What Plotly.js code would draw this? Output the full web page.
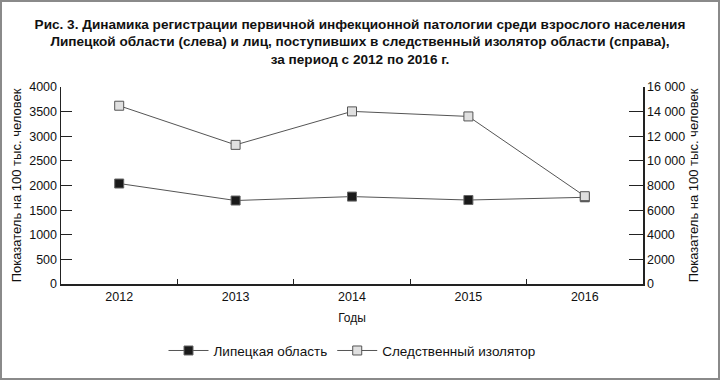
<!DOCTYPE html>
<html><head><meta charset="utf-8">
<script src="https://cdn.plot.ly/plotly-3.0.1.min.js"></script>
<style>
html,body{margin:0;padding:0;background:#fff;}
#wrap{position:relative;width:720px;height:380px;}
#frame{position:absolute;left:0;top:0;width:720px;height:380px;box-sizing:border-box;border:2px solid #8a8a8a;pointer-events:none;}
</style></head>
<body><div id="wrap"><div id="chart" style="width:720px;height:380px;"></div><div id="frame"></div></div>
<script>
const years = ['2012','2013','2014','2015','2016'];
const lipetsk = [2040, 1695, 1775, 1705, 1760];
const sizo = [14480, 11300, 14020, 13610, 7130];
const leftTicks = [0,500,1000,1500,2000,2500,3000,3500,4000];
const rightTicks = [0,2000,4000,6000,8000,10000,12000,14000,16000];
const rightTickText = ['0','2000','4000','6000','8000','10 000','12 000','14 000','16 000'];
const titleText = 'Рис. 3. Динамика регистрации первичной инфекционной патологии среди взрослого населения<br>Липецкой области (слева) и лиц, поступивших в следственный изолятор области (справа),<br>за период с 2012 по 2016 г.';
const yTitle = 'Показатель на 100 тыс. человек';

const font = {family:'Liberation Sans, Arial, sans-serif', size:12, color:'#111'};
const traces = [
  {x: years, y: lipetsk, name:'Липецкая область', type:'scatter', mode:'lines+markers',
   line:{color:'#555', width:1}, marker:{symbol:'square', size:9, color:'#1a1a1a', line:{color:'#666', width:1}}},
  {x: years, y: sizo, name:'Следственный изолятор', type:'scatter', mode:'lines+markers', yaxis:'y2',
   line:{color:'#555', width:1}, marker:{symbol:'square', size:9, color:'#e0e0e0', line:{color:'#555', width:1}}}
];
const layout = {
  width:720, height:380,
  margin:{l:61, r:77, t:87, b:96},
  paper_bgcolor:'#fff', plot_bgcolor:'#fff',
  font: font,
  title:{text:titleText, font:{family:'Liberation Sans, Arial, sans-serif', size:13.6, color:'#111', weight:'bold'}, x:0.5, xanchor:'center', y:0.925, yanchor:'top'},
  xaxis:{type:'category', range:[-0.5,4.5], tickson:'boundaries', ticks:'inside', ticklen:5, tickcolor:'#222',
    showline:true, linecolor:'#222', linewidth:1.5, showgrid:false, zeroline:false,
    title:{text:'Годы', font:{size:12}, standoff:11}, tickfont:{size:12.5}},
  yaxis:{range:[0,4000], tickvals:leftTicks, ticks:'inside', ticklen:11, tickcolor:'#222',
    showline:true, linecolor:'#222', linewidth:1.5, showgrid:false, zeroline:false,
    title:{text:yTitle, font:{size:13}, standoff:4}, tickfont:{size:12.5}},
  yaxis2:{range:[0,16000], overlaying:'y', side:'right', tickvals:rightTicks, ticktext:rightTickText,
    ticks:'inside', ticklen:14, tickcolor:'#222', showline:true, linecolor:'#222', linewidth:1.5,
    showgrid:false, zeroline:false, title:{text:yTitle, font:{size:13}, standoff:4}, tickfont:{size:12.5}},
  showlegend:true,
  legend:{orientation:'h', x:0.5, xanchor:'center', y:-0.26, yanchor:'top', font:{size:13.5}, itemwidth:40, traceorder:'normal'}
};
Plotly.newPlot('chart', traces, layout, {displayModeBar:false, staticPlot:true});
</script></body></html>
